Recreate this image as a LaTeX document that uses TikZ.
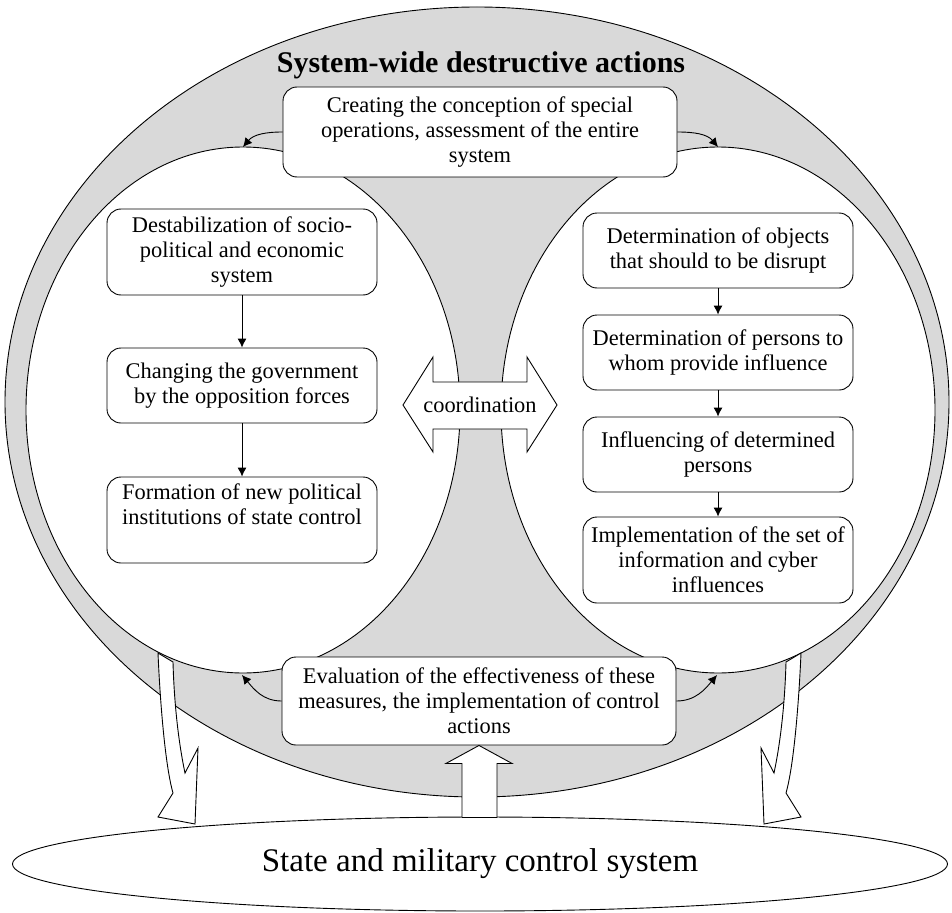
\documentclass[tikz,border=0pt]{standalone}
\usepackage{fontspec}
\setmainfont{Liberation Serif}
\usetikzlibrary{shapes.geometric,arrows.meta,calc}
\begin{document}
\begin{tikzpicture}[x=1pt,y=-1pt,
  every node/.style={font=\fontsize{22.4}{25}\selectfont},
  ln/.style={line width=0.9pt},
  box/.style={draw, fill=white, rounded corners=14pt, line width=0.9pt, align=center, inner sep=0pt},
  sbox/.style={box, minimum width=270pt},
  wbox/.style={box, minimum width=394pt},
  arr/.style={-{Latex[length=9pt,width=9pt]}, line width=0.9pt},
  blockarr/.style={line width=0.9pt, fill=white, draw, line join=miter}]
\useasboundingbox (0,0) rectangle (952,912);
% outer grey ellipse and two white circles
\draw[ln, fill=black!15] (477,402) ellipse [x radius=472pt, y radius=395pt];
\draw[ln, fill=white] (243,410) ellipse [x radius=217pt, y radius=263pt];
\draw[ln, fill=white] (718,410) ellipse [x radius=217pt, y radius=263pt];
\coordinate (ltop) at (243,147);
\coordinate (rtop) at (718,147);
\coordinate (lbot) at (242,675);
\coordinate (rbot) at (717,675);
% title
\node[font=\fontsize{30}{34}\selectfont\bfseries, anchor=base] (title) at (481,73) {System-wide destructive actions};
% top and bottom boxes
\node[wbox, minimum height=90pt] (create) at (480,132) {Creating the conception of special\\operations, assessment of the entire\\system};
\node[wbox, minimum height=88pt] (eval) at (479,701) {Evaluation of the effectiveness of these\\measures, the implementation of control\\actions};
% left column
\node[sbox, minimum height=86pt] (destab) at (242,252) {Destabilization of socio-\\political and economic\\system};
\node[sbox, minimum height=75pt] (change) at (242,385.5) {Changing the government\\by the opposition forces};
\node[sbox, minimum height=86pt] (form) at (242,520) {Formation of new political\\institutions of state control\\\strut};
% right column
\node[sbox, minimum height=75pt] (obj) at (718,250.5) {Determination of objects\\that should to be disrupt};
\node[sbox, minimum height=75pt] (pers) at (718,352.5) {Determination of persons to\\whom provide influence};
\node[sbox, minimum height=75pt] (infl) at (718,454.5) {Influencing of determined\\persons};
\node[sbox, minimum height=86pt] (impl) at (718,560) {Implementation of the set of\\information and cyber\\influences};
% column arrows
\draw[arr] (destab.south) -- (change.north);
\draw[arr] (change.south) -- (form.north);
\draw[arr] (obj.south) -- (pers.north);
\draw[arr] (pers.south) -- (infl.north);
\draw[arr] (infl.south) -- (impl.north);
% curved arrows
\draw[arr] (create.west) to[out=180,in=50] (ltop);
\draw[arr] (create.east) to[out=0,in=130] (rtop);
\draw[arr] (eval.west) to[out=180,in=-50] (lbot);
\draw[arr] (eval.east) to[out=0,in=-130] (rbot);
% coordination double arrow
\draw[blockarr] (403,405) -- (433,357) -- (433,382) -- (527,382) -- (527,357) -- (557,405)
  -- (527,452) -- (527,429) -- (433,429) -- (433,452) -- cycle;
\node (coord) at (480,405) {coordination};
% bottom ellipse
\node[draw, ellipse, ln, fill=white, minimum width=935pt, minimum height=94pt, inner sep=0pt,
  font=\fontsize{33}{36}\selectfont] (sys) at (480,864) {State and military control system};
% hollow curved arrows
\draw[blockarr] (158,653) .. controls (160,700) and (165,765) .. (173,793) -- (158,817) -- (195,824)
  -- (198,748) -- (185,773) .. controls (178,740) and (174,700) .. (173,662) -- cycle;
\draw[blockarr] (801,653) .. controls (799,700) and (794,765) .. (786,793) -- (801,817) -- (764,824)
  -- (761,748) -- (774,773) .. controls (781,740) and (785,700) .. (786,662) -- cycle;
% up arrow
\draw[blockarr] (eval.south) -- ++(33,18) -- ++(-15,0) -- ++(0,54) -- ++(-35,0) -- ++(0,-54) -- ++(-16,0) -- cycle;
\end{tikzpicture}
\end{document}
